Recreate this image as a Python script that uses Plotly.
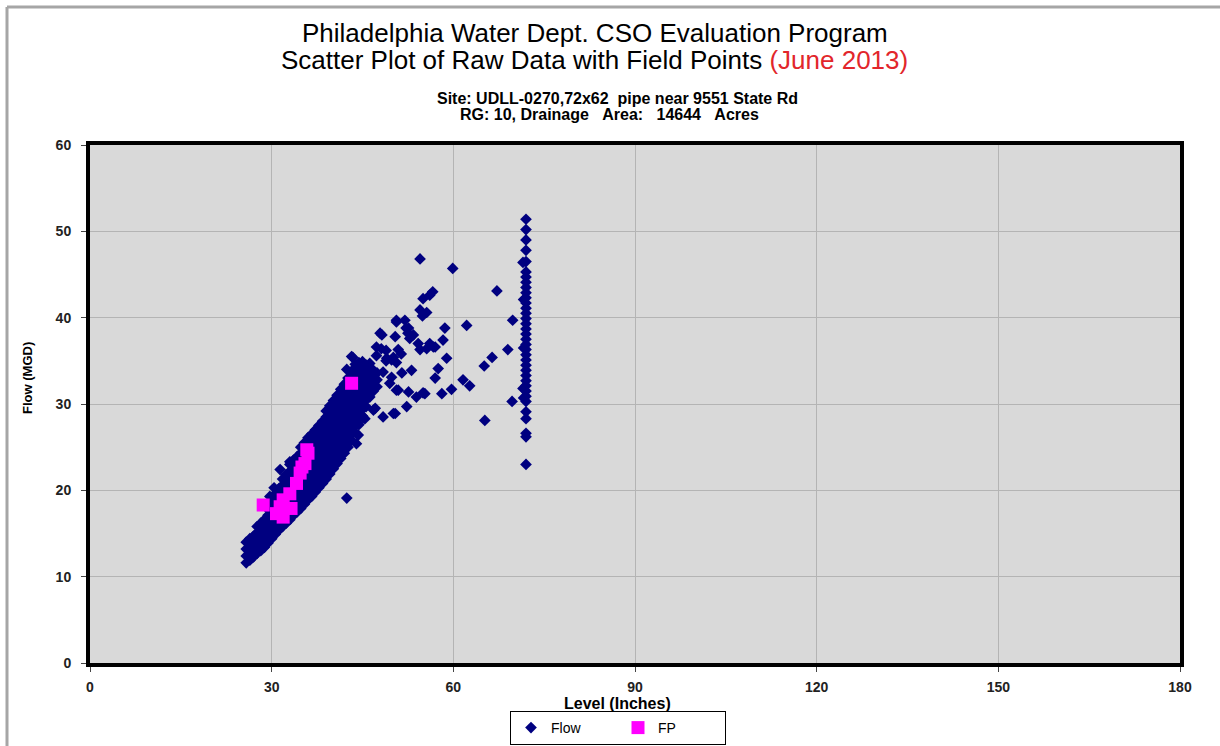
import plotly.graph_objects as go

# ---------------- data ----------------
# Main dense band of Flow readings: level columns and the flows seen in each
band_levels = [25.8, 26.4, 27.0, 27.6, 28.2, 28.8, 29.4, 30.0, 30.6, 31.2, 31.8, 32.4,
               33.0, 33.6, 34.2, 34.8, 35.4, 36.0, 36.6, 37.2, 37.8, 38.4, 39.0, 39.6,
               40.2, 40.8, 41.4, 42.0, 42.6, 43.2, 43.8, 44.4, 45.0, 45.6, 46.2, 46.8, 47.4]
band_flows = [
    [11.6, 12.4, 13.2, 14.0],
    [11.9, 12.8, 13.6, 14.4],
    [12.3, 13.1, 13.9, 14.7],
    [12.7, 13.5, 14.3, 15.1, 15.8],
    [13.0, 13.8, 14.6, 15.4, 16.2],
    [13.4, 14.2, 15.0, 15.8, 16.6],
    [13.9, 14.7, 15.5, 16.3, 17.1, 17.8],
    [14.4, 15.2, 16.0, 16.8, 17.6, 18.4],
    [14.9, 15.7, 16.5, 17.3, 18.1, 18.9, 19.6],
    [15.4, 16.2, 17.0, 17.8, 18.6, 19.4, 20.2],
    [15.8, 16.6, 17.4, 18.2, 19.0, 19.8, 20.6, 21.3],
    [16.2, 17.0, 17.8, 18.6, 19.4, 20.2, 21.0, 21.8],
    [16.6, 17.4, 18.2, 19.0, 19.8, 20.6, 21.4, 22.2, 23.0],
    [17.1, 17.9, 18.7, 19.5, 20.3, 21.1, 21.9, 22.7, 23.5],
    [17.5, 18.3, 19.1, 19.9, 20.7, 21.5, 22.3, 23.1, 23.9],
    [17.9, 18.7, 19.5, 20.3, 21.1, 21.9, 22.7, 23.5, 24.3, 25.0],
    [18.4, 19.2, 20.0, 20.8, 21.6, 22.4, 23.2, 24.0, 24.8, 25.5],
    [18.9, 19.7, 20.5, 21.3, 22.1, 22.9, 23.7, 24.5, 25.3, 26.1],
    [19.3, 20.1, 20.9, 21.7, 22.5, 23.3, 24.1, 24.9, 25.7, 26.5],
    [19.8, 20.6, 21.4, 22.2, 23.0, 23.8, 24.6, 25.4, 26.2, 27.0],
    [20.3, 21.1, 21.9, 22.7, 23.5, 24.3, 25.1, 25.9, 26.7, 27.5],
    [20.8, 21.6, 22.4, 23.2, 24.0, 24.8, 25.6, 26.4, 27.2, 28.0],
    [21.3, 22.1, 22.9, 23.7, 24.5, 25.3, 26.1, 26.9, 27.7, 28.5, 29.2],
    [21.9, 22.7, 23.5, 24.3, 25.1, 25.9, 26.7, 27.5, 28.3, 29.1, 29.8],
    [22.5, 23.3, 24.1, 24.9, 25.7, 26.5, 27.3, 28.1, 28.9, 29.7, 30.4],
    [23.1, 23.9, 24.7, 25.5, 26.3, 27.1, 27.9, 28.7, 29.5, 30.3, 31.0],
    [23.7, 24.5, 25.3, 26.1, 26.9, 27.7, 28.5, 29.3, 30.1, 30.9, 31.7],
    [24.3, 25.1, 25.9, 26.7, 27.5, 28.3, 29.1, 29.9, 30.7, 31.5, 32.3],
    [25.0, 25.8, 26.6, 27.4, 28.2, 29.0, 29.8, 30.6, 31.4, 32.2, 33.0],
    [25.8, 26.6, 27.4, 28.2, 29.0, 29.8, 30.6, 31.4, 32.2, 33.0, 33.8],
    [26.7, 27.5, 28.3, 29.1, 29.9, 30.7, 31.5, 32.3, 33.1, 33.9, 34.6],
    [27.6, 28.4, 29.2, 30.0, 30.8, 31.6, 32.4, 33.2, 34.0, 34.8],
    [28.6, 29.4, 30.2, 31.0, 31.8, 32.6, 33.4, 34.2, 34.9],
    [29.7, 30.5, 31.3, 32.1, 32.9, 33.7, 34.5],
    [30.8, 31.6, 32.4, 33.2, 34.0, 34.7],
    [31.5, 32.3, 33.1, 33.9],
    [32.0, 32.8, 33.6],
]

# Scattered Flow readings away from the band
scatter_level = [29.7, 30.4, 31.4, 33.0, 42.4, 44.0, 44.3, 45.1, 45.4, 46.8, 47.1,
                 48.4, 50.1, 50.4, 52.3, 43.2, 42.4, 43.4, 47.3, 48.1, 47.9, 48.2,
                 48.9, 47.3, 50.1, 48.9, 50.6, 48.4, 49.8, 50.6, 49.5, 49.0, 49.8,
                 50.4, 50.9, 51.4, 51.5, 53.1, 52.8, 54.2, 54.5, 55.6, 56.7, 52.6,
                 53.9, 55.3, 50.9, 58.1, 57.0, 57.5, 58.9, 58.3, 58.6, 54.5, 55.6,
                 55.0, 56.1, 56.6, 52.0, 50.6, 52.2, 52.5, 54.5, 59.9, 62.2, 61.6,
                 62.7, 59.7, 55.0, 67.2, 69.8, 69.0, 66.4, 65.1, 69.7, 65.2, 54.9,
                 53.4, 56.1, 57.0, 52.6, 50.6]
scatter_flow = [19.3, 20.3, 22.4, 23.3, 19.1, 25.4, 26.4, 28.4, 28.3, 29.3, 29.5,
                28.5, 28.9, 28.9, 29.7, 35.5, 34.0, 35.4, 36.6, 36.4, 38.2, 38.0,
                36.2, 35.6, 35.4, 35.0, 34.8, 33.7, 33.1, 31.6, 32.4, 35.3, 35.1,
                37.8, 36.3, 35.8, 33.6, 33.9, 37.6, 37.0, 36.3, 36.4, 36.6, 31.4,
                30.8, 31.2, 31.6, 31.2, 33.0, 34.1, 35.3, 37.4, 38.8, 40.9, 40.6,
                42.2, 42.6, 43.0, 39.7, 39.5, 38.8, 38.2, 46.8, 45.7, 39.1, 32.8,
                32.1, 31.7, 31.3, 43.1, 39.7, 36.3, 35.4, 34.4, 30.3, 28.1, 40.2,
                38.0, 37.0, 36.6, 38.8, 39.7]

# Readings stacked at the 72-inch pipe crown
crown_level = [72.0] * 36 + [71.5, 71.6, 71.6, 71.5, 71.6]
crown_flow = [23.0, 26.2, 26.6, 28.3, 29.1, 30.3, 30.9, 31.5, 32.1, 32.7, 33.3, 33.9,
              34.5, 35.1, 35.7, 36.3, 36.9, 37.5, 38.1, 38.7, 39.3, 39.9, 40.5, 41.1,
              41.7, 42.3, 42.9, 43.5, 44.1, 44.7, 45.3, 46.5, 47.8, 49.0, 50.2, 51.4,
              46.4, 42.1, 36.5, 31.8, 30.7]

# Field points (FP)
fp_level = [28.6, 30.8, 31.4, 31.9, 33.2, 31.9, 33.0, 34.1, 34.7, 35.0, 35.5, 35.8, 36.0, 43.2]
fp_flow = [18.3, 17.3, 18.1, 16.9, 17.9, 18.9, 19.6, 20.8, 22.0, 22.7, 23.1, 24.7, 24.3, 32.4]

x_ticks = [0, 30, 60, 90, 120, 150, 180]
y_ticks = [0, 10, 20, 30, 40, 50, 60]

# ---------------- build series ----------------
flow_x, flow_y = [], []
for lv, fl in zip(band_levels, band_flows):
    flow_x += [lv] * len(fl)
    flow_y += fl
flow_x += scatter_level + crown_level
flow_y += scatter_flow + crown_flow

# ---------------- geometry helpers (pixel -> paper) ----------------
W, H = 1220, 746
L, R, T, B = 90, 1180, 145, 663
def px(x):
    return (x - L) / (R - L)
def py(y):
    return (B - y) / (B - T)

FONT = "Liberation Sans, Arial, sans-serif"
NB = "\u00a0"

fig = go.Figure()
fig.add_trace(go.Scatter(
    x=flow_x, y=flow_y, mode="markers", name="Flow",
    marker=dict(symbol="diamond", size=9, color="#000080", line=dict(width=0)),
))
fig.add_trace(go.Scatter(
    x=fp_level, y=fp_flow, mode="markers", name="FP",
    marker=dict(symbol="square", size=13, color="#ff00ff", line=dict(width=0)),
))

fig.update_layout(
    width=W, height=H,
    margin=dict(l=L, r=W - R, t=T, b=H - B, pad=0, autoexpand=False),
    paper_bgcolor="white", plot_bgcolor="#d9d9d9",
    font=dict(family=FONT, color="black"),
    showlegend=True,
    legend=dict(
        orientation="h", xref="container", yref="container",
        x=618 / W, y=(H - 745) / H, xanchor="center", yanchor="bottom",
        bgcolor="white", bordercolor="black", borderwidth=1,
        font=dict(family=FONT, size=14, color="black"),
        entrywidth=62, itemsizing="trace", itemwidth=30,
    ),
)

fig.update_xaxes(
    range=[0, 180], tickvals=x_ticks, ticktext=[str(v) for v in x_ticks],
    showgrid=True, gridcolor="#b4b4b4", gridwidth=1, zeroline=False,
    showline=True, linecolor="black", linewidth=4, mirror=True,
    ticks="outside", ticklen=5, tickcolor="#444", tickwidth=1,
    ticklabelstandoff=3, automargin=False,
    tickfont=dict(family=FONT, size=14, color="#222", weight="bold"),
)
fig.update_yaxes(
    range=[0, 60], tickvals=y_ticks, ticktext=[str(v) for v in y_ticks],
    showgrid=True, gridcolor="#b4b4b4", gridwidth=1, zeroline=False,
    showline=True, linecolor="black", linewidth=4, mirror=True,
    ticks="outside", ticklen=5, tickcolor="#444", tickwidth=1,
    ticklabelstandoff=7, automargin=False,
    tickfont=dict(family=FONT, size=14, color="#222", weight="bold"),
)

ann = [
    dict(text="Philadelphia Water Dept. CSO Evaluation Program", x=px(595), y=py(33),
         font=dict(family=FONT, size=26, color="black")),
    dict(text="Scatter Plot of Raw Data with Field Points <span style='color:#e2262b'>(June 2013)</span>",
         x=px(594), y=py(60), font=dict(family=FONT, size=26, color="black")),
    dict(text="<b>Site: UDLL-0270,72x62" + NB + NB + "pipe near 9551 State Rd</b>", x=px(617), y=py(99),
         font=dict(family=FONT, size=16, color="black")),
    dict(text="<b>RG: 10, Drainage" + NB * 3 + "Area:" + NB * 3 + "14644" + NB * 3 + "Acres</b>",
         x=px(609), y=py(115), font=dict(family=FONT, size=16, color="black")),
    dict(text="<b>Level (Inches)</b>", x=px(617), y=py(703),
         font=dict(family=FONT, size=16, color="black")),
    dict(text="<b>Flow (MGD)</b>", x=px(27), y=py(378), textangle=-90,
         font=dict(family=FONT, size=13, color="black")),
]
for a in ann:
    fig.add_annotation(xref="paper", yref="paper", showarrow=False,
                       xanchor="center", yanchor="middle", **a)

# outer chart border (left and top edges visible)
fig.add_shape(type="line", xref="paper", yref="paper", x0=px(7), y0=py(7), x1=px(1222), y1=py(7),
              line=dict(color="#a6a6a6", width=3))
fig.add_shape(type="line", xref="paper", yref="paper", x0=px(7), y0=py(7), x1=px(7), y1=py(748),
              line=dict(color="#a6a6a6", width=3))

fig.write_html("out.html")
